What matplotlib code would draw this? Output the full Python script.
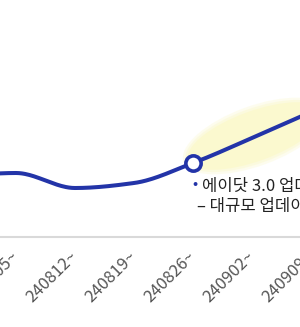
import numpy as np
import matplotlib
matplotlib.use("Agg")
import matplotlib.pyplot as plt
from matplotlib.patches import Ellipse
from matplotlib.transforms import IdentityTransform

plt.rcParams['font.family'] = ['Noto Sans CJK KR', 'DejaVu Sans']

# ---- data ----
weeks = ["240729~", "240805~", "240812~", "240819~", "240826~", "240902~", "240909~"]
values = [30.5, 32.0, 24.5, 27.0, 37.0, 49.5, 62.5]
highlight_week = "240826~"
note_line1 = "에이닷 3.0 업데이트"
note_line2 = "– 대규모 업데이트"

LINE_BLUE = "#2334a8"

def pchip(x, y, n=40):
    x = np.asarray(x, float); y = np.asarray(y, float)
    h = np.diff(x); d = np.diff(y) / h
    m = np.zeros_like(y)
    for k in range(1, len(y) - 1):
        if d[k - 1] * d[k] > 0:
            w1 = 2 * h[k] + h[k - 1]; w2 = h[k] + 2 * h[k - 1]
            m[k] = (w1 + w2) / (w1 / d[k - 1] + w2 / d[k])
    m[0] = d[0]; m[-1] = d[-1]
    xs, ys = [], []
    for k in range(len(x) - 1):
        t = np.linspace(0, 1, n)
        h00 = 2*t**3 - 3*t**2 + 1; h10 = t**3 - 2*t**2 + t
        h01 = -2*t**3 + 3*t**2; h11 = t**3 - t**2
        xs.append(x[k] + t * h[k])
        ys.append(h00*y[k] + h10*h[k]*m[k] + h01*y[k+1] + h11*h[k]*m[k+1])
    return np.concatenate(xs), np.concatenate(ys)

idx = np.arange(len(weeks)) - 1  # 240805~ at 0

# axes extends past the right edge of the figure (chart is a crop)
W_PX = 340
fig = plt.figure(figsize=(3.0, 3.27), dpi=100)
ax = fig.add_axes([0, (327 - 237) / 327, W_PX / 300, 237 / 327])

for s in ("top", "left", "right"):
    ax.spines[s].set_visible(False)
ax.spines["bottom"].set_color("#d9d9d9")
ax.spines["bottom"].set_linewidth(1.5)
ax.set_yticks([])

xs, ys = pchip(idx, values)
ax.plot(xs, ys, color=LINE_BLUE, lw=2.9, solid_capstyle="round", zorder=3)

hi = weeks.index(highlight_week)
ax.plot([idx[hi]], [values[hi]], marker="o", ms=11, mfc="white", mec=LINE_BLUE,
        mew=2.6, zorder=4)

ax.set_xticks(idx)
ax.set_xticklabels(weeks, rotation=45, ha="right", va="center",
                   rotation_mode="anchor", fontsize=12, color="#555555")
ax.tick_params(axis="x", length=0, pad=12)

ax.set_xlim(-16 / 59, -16 / 59 + W_PX / 59)
ax.set_ylim(0, 118.5)

# highlight ellipse in pixel space (soft glow)
fig.canvas.draw()
cx, cy = ax.transData.transform((idx[hi], values[hi]))
for grow, alpha in [(10, 0.35), (5, 0.5), (0, 1.0)]:
    ell = Ellipse((cx + 62, cy + 27), width=142 + grow, height=50 + grow, angle=20,
                  transform=IdentityTransform(), facecolor="#fbf9cf", edgecolor="none",
                  alpha=alpha, zorder=1)
    ax.add_artist(ell)

# annotation
ax.annotate("•", xy=(idx[hi], values[hi]), xytext=(2, -22), textcoords="offset pixels",
            color=LINE_BLUE, fontsize=11, ha="center", va="center", zorder=5)
ax.annotate(note_line1, xy=(idx[hi], values[hi]), xytext=(9, -23), textcoords="offset pixels",
            color="#222222", fontsize=12, ha="left", va="center", zorder=5,
            annotation_clip=False)
ax.annotate(note_line2, xy=(idx[hi], values[hi]), xytext=(4, -44), textcoords="offset pixels",
            color="#222222", fontsize=12, ha="left", va="center", zorder=5,
            annotation_clip=False)

fig.savefig("out.png", dpi=100)
